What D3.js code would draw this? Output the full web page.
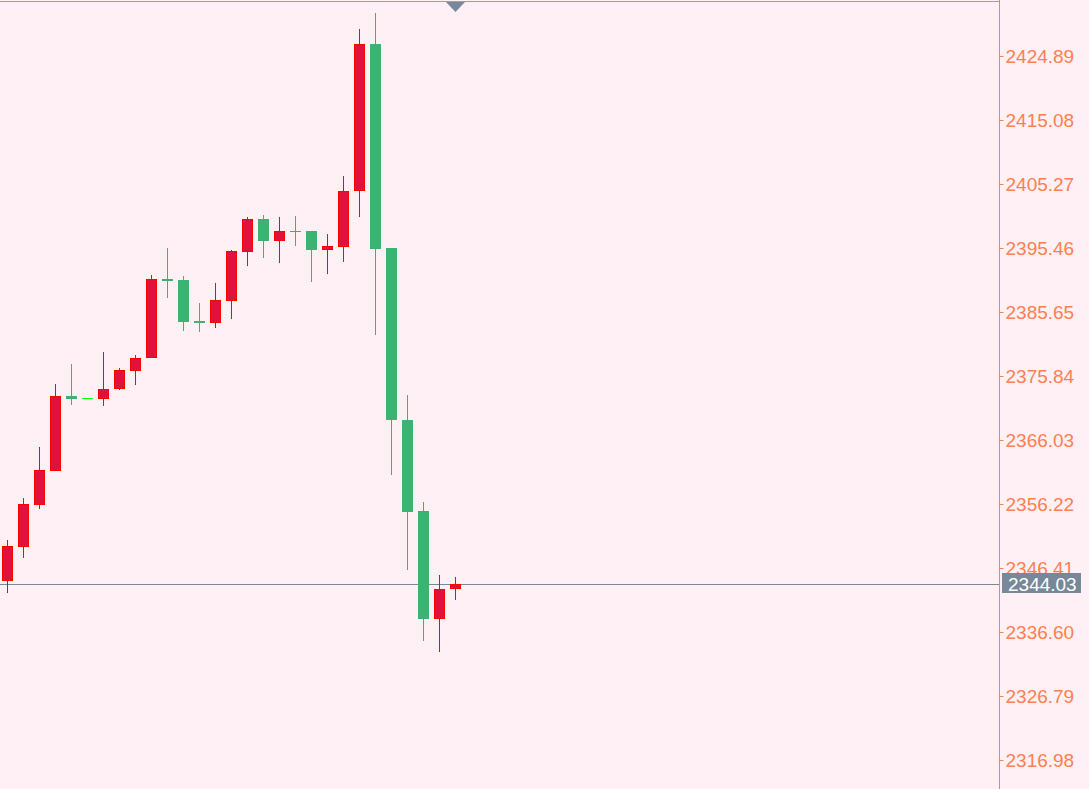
<!DOCTYPE html>
<html>
<head>
<meta charset="utf-8">
<script src="https://cdn.jsdelivr.net/npm/d3@7"></script>
<style>
  html, body { margin: 0; padding: 0; background: #FFF0F5; }
  svg { display: block; }
</style>
</head>
<body>
<div id="chart"></div>
<script>
// candle data, left to right
var opens  = [2344.42, 2349.63, 2356.07, 2361.28, 2372.77, 2372.47, 2372.36, 2373.89, 2376.65, 2378.60,
              2390.71, 2390.56, 2384.27, 2384.01, 2387.39, 2394.89, 2399.91, 2396.58, 2398.07, 2398.07,
              2395.20, 2395.66, 2404.24, 2426.73, 2395.46, 2369.10, 2355.15, 2338.64, 2343.24];
var highs  = [2350.70, 2357.14, 2364.96, 2374.61, 2377.68, 2372.47, 2379.52, 2377.07, 2379.06, 2391.32,
              2395.46, 2391.17, 2387.03, 2390.10, 2395.15, 2400.21, 2400.52, 2400.21, 2400.37, 2398.07,
              2397.61, 2406.50, 2429.03, 2431.48, 2395.46, 2372.93, 2356.53, 2345.34, 2345.03];
var lows   = [2342.58, 2347.94, 2355.45, 2361.28, 2371.40, 2372.47, 2371.24, 2373.69, 2374.46, 2378.60,
              2387.80, 2382.74, 2382.58, 2383.20, 2384.58, 2392.70, 2393.93, 2393.16, 2395.77, 2390.25,
              2391.48, 2393.31, 2400.21, 2382.12, 2360.67, 2346.10, 2335.22, 2333.54, 2341.51];
var closes = [2349.78, 2356.22, 2361.43, 2372.77, 2372.39, 2372.47, 2373.85, 2376.76, 2378.60, 2390.71,
              2390.45, 2384.16, 2384.01, 2387.49, 2395.00, 2399.91, 2396.53, 2398.07, 2397.96, 2395.20,
              2395.77, 2404.20, 2426.73, 2395.35, 2369.14, 2355.04, 2338.64, 2343.19, 2344.03];

var tickValues = [2424.89, 2415.08, 2405.27, 2395.46, 2385.65, 2375.84, 2366.03, 2356.22, 2346.41, 2336.60, 2326.79, 2316.98];
var lastPrice = 2344.03;

var width = 1089, height = 789;
var plotRight = 999;

var bg = "#FFF0F5",
    axisColor = "#FF7F50",
    bullFill = "#DC143C", bullLine = "#FF0000",
    bearFill = "#3CB371",
    dojiColor = "#00FF00",
    priceColor = "#778899";

var candles = opens.map(function (o, i) {
    return {i: i, o: o, h: highs[i], l: lows[i], c: closes[i]};
});

var x = d3.scaleLinear().domain([0, candles.length - 1]).range([7.5, 7.5 + 16 * (candles.length - 1)]);
var y = d3.scaleLinear().domain([2312.54, 2433.32]).range([789, 1]);

var svg = d3.select("#chart").append("svg")
    .attr("width", width)
    .attr("height", height);

svg.append("rect")
    .attr("width", width)
    .attr("height", height)
    .attr("fill", bg);

// price line of the last quote
svg.append("line")
    .attr("x1", 0).attr("x2", plotRight)
    .attr("y1", Math.round(y(lastPrice)) + 0.5)
    .attr("y2", Math.round(y(lastPrice)) + 0.5)
    .attr("stroke", priceColor)
    .attr("stroke-width", 1);

var g = svg.append("g").attr("class", "candles");

var candle = g.selectAll("g.candle")
    .data(candles)
    .enter().append("g")
    .attr("class", "candle");

// wicks
candle.filter(function (d) { return d.h !== d.l; })
    .append("line")
    .attr("x1", function (d) { return x(d.i); })
    .attr("x2", function (d) { return x(d.i); })
    .attr("y1", function (d) { return Math.round(y(d.h)); })
    .attr("y2", function (d) { return Math.round(y(d.l)); })
    .attr("stroke", function (d) { return d.c > d.o ? bullLine : bearFill; })
    .attr("stroke-width", 1);

// bearish bodies (green)
candle.filter(function (d) { return d.c <= d.o && d.h !== d.l; })
    .append("rect")
    .attr("x", function (d) { return x(d.i) - 5.5; })
    .attr("width", 11)
    .attr("y", function (d) { return Math.round(y(d.o)); })
    .attr("height", function (d) { return Math.max(1, Math.round(y(d.c)) - Math.round(y(d.o))); })
    .attr("fill", bearFill);

// bullish bodies (crimson with red outline)
candle.filter(function (d) { return d.c > d.o; })
    .append("rect")
    .attr("x", function (d) { return x(d.i) - 5; })
    .attr("width", 10)
    .attr("y", function (d) { return Math.round(y(d.c)) + 0.5; })
    .attr("height", function (d) { return Math.max(1, Math.round(y(d.o)) - Math.round(y(d.c)) - 1); })
    .attr("fill", bullFill)
    .attr("stroke", bullLine)
    .attr("stroke-width", 1);

// flat candles (open = high = low = close)
candle.filter(function (d) { return d.h === d.l; })
    .append("line")
    .attr("x1", function (d) { return x(d.i) - 5.5; })
    .attr("x2", function (d) { return x(d.i) + 5.5; })
    .attr("y1", function (d) { return Math.round(y(d.c)) + 0.5; })
    .attr("y2", function (d) { return Math.round(y(d.c)) + 0.5; })
    .attr("stroke", dojiColor)
    .attr("stroke-width", 1);

// frame: top border and price scale line
svg.append("line")
    .attr("x1", 0).attr("x2", plotRight + 1)
    .attr("y1", 1.5).attr("y2", 1.5)
    .attr("stroke", axisColor);

var yAxis = d3.axisRight(y)
    .tickValues(tickValues)
    .tickSize(4)
    .tickPadding(2)
    .tickFormat(d3.format(".2f"));

var axisG = svg.append("g")
    .attr("class", "y_axis")
    .attr("transform", "translate(" + (plotRight + 0.5) + ",0)")
    .call(yAxis);

axisG.select(".domain")
    .attr("d", "M0,0V" + height)
    .attr("stroke", axisColor);
axisG.selectAll(".tick line").attr("stroke", axisColor);
axisG.selectAll(".tick text")
    .attr("fill", axisColor)
    .style("font-family", "'Liberation Sans', Arial, sans-serif")
    .style("font-size", "19px");

// marker of the last bar at the top
var lastX = x(candles.length - 1);
svg.append("path")
    .attr("d", "M" + (lastX - 9.5) + ",2L" + (lastX + 9.5) + ",2L" + lastX + ",12Z")
    .attr("fill", priceColor);

// last price label
var py = Math.round(y(lastPrice));
svg.append("rect")
    .attr("x", plotRight + 3)
    .attr("y", py - 11)
    .attr("width", 79)
    .attr("height", 20)
    .attr("fill", priceColor);

svg.append("text")
    .attr("x", plotRight + 9)
    .attr("y", py)
    .attr("dy", "0.35em")
    .attr("fill", "#FFFFFF")
    .style("font-family", "'Liberation Sans', Arial, sans-serif")
    .style("font-size", "19px")
    .text(d3.format(".2f")(lastPrice));
</script>
</body>
</html>
